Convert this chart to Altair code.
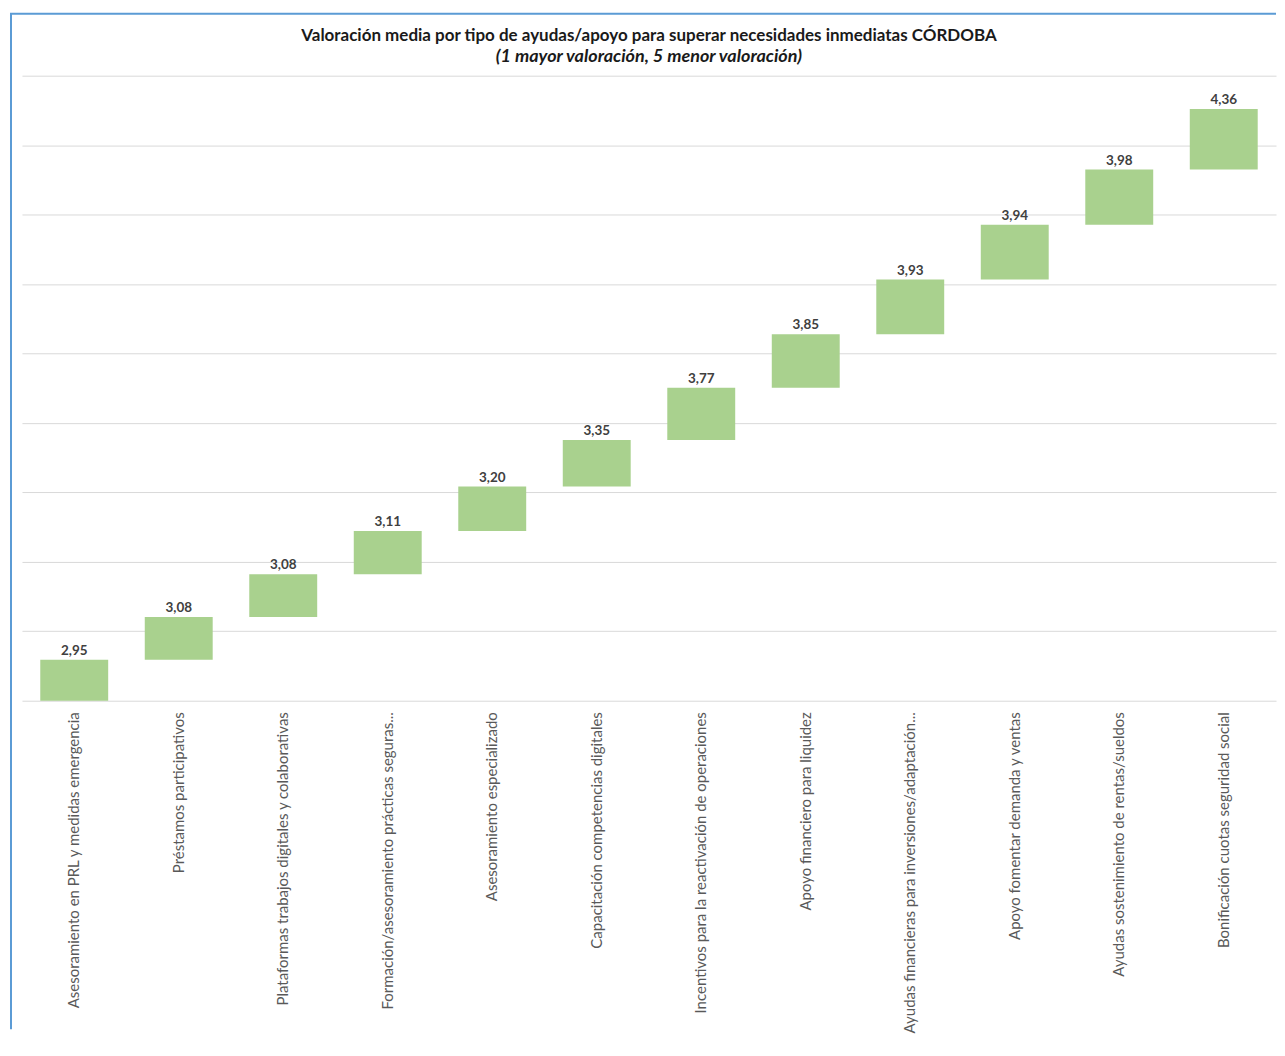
import altair as alt
import pandas as pd

categories = [
    "Asesoramiento en PRL y medidas emergencia",
    "Préstamos participativos",
    "Plataformas trabajos digitales y colaborativas",
    "Formación/asesoramiento prácticas seguras...",
    "Asesoramiento especializado",
    "Capacitación competencias digitales",
    "Incentivos para la reactivación de operaciones",
    "Apoyo financiero para liquidez",
    "Ayudas financieras para inversiones/adaptación...",
    "Apoyo fomentar demanda y ventas",
    "Ayudas sostenimiento de rentas/sueldos",
    "Bonificación cuotas seguridad social",
]
values = [2.95, 3.08, 3.08, 3.11, 3.20, 3.35, 3.77, 3.85, 3.93, 3.94, 3.98, 4.36]
grid_values = [0, 5, 10, 15, 20, 25, 30, 35, 40, 45]

title_text = "Valoración media por tipo de ayudas/apoyo para superar necesidades inmediatas CÓRDOBA"
subtitle_text = "(1 mayor valoración, 5 menor valoración)"

df = pd.DataFrame({"cat": categories, "val": values})
df["end"] = df["val"].cumsum()
df["start"] = df["end"] - df["val"]
df["label"] = [f"{v:.2f}".replace(".", ",") for v in values]

W, H = 1256, 626
FONT = "Lato"
BORDER = "#5b9bd5"

x = alt.X(
    "cat:N",
    sort=None,
    title=None,
    scale=alt.Scale(paddingInner=0.35, paddingOuter=0.175),
    axis=alt.Axis(
        labelAngle=-90,
        labelFont=FONT,
        labelFontSize=15,
        labelColor="#595959",
        labelPadding=11,
        labelLimit=500,
        ticks=False,
        domain=False,
        grid=False,
    ),
)

y_axis = alt.Axis(
    values=grid_values,
    labels=False,
    ticks=False,
    domain=False,
    grid=True,
    gridColor="#d9d9d9",
    gridWidth=1,
)
y_scale = alt.Scale(domain=[0, 45], nice=False, zero=True)

base = alt.Chart(df).encode(x=x)

bars = base.mark_bar(color="#a9d18e").encode(
    y=alt.Y("start:Q", title=None, scale=y_scale, axis=y_axis),
    y2="end:Q",
)

text = base.mark_text(
    font=FONT, fontSize=13.5, fontWeight="bold", color="#404040",
    baseline="alphabetic", dy=-5,
).encode(
    y=alt.Y("end:Q", title=None, scale=y_scale, axis=y_axis),
    text="label:N",
)

border_df = pd.DataFrame({"k": [0]})
left_border = alt.Chart(border_df).mark_rule(color=BORDER, strokeWidth=2).encode(
    x=alt.value(-11), y=alt.value(-62), y2=alt.value(955)
)
top_border = alt.Chart(border_df).mark_rule(color=BORDER, strokeWidth=2).encode(
    x=alt.value(-12), x2=alt.value(W), y=alt.value(-62)
)

chart = alt.layer(bars, text, left_border, top_border).properties(
    width=W,
    height=H,
    padding={"left": 1, "top": 4, "right": 0, "bottom": 0},
    background="white",
    title=alt.TitleParams(
        text=title_text,
        subtitle=subtitle_text,
        font=FONT,
        fontSize=17,
        fontWeight="bold",
        color="#1a1a1a",
        subtitleFont=FONT,
        subtitleFontSize=18,
        subtitleFontWeight="bold",
        subtitleFontStyle="italic",
        subtitleColor="#1a1a1a",
        anchor="middle",
        frame="group",
        offset=-54,
        subtitlePadding=3,
    ),
).configure_view(stroke=None)

chart.save("out.html", embed_options={"renderer": "svg", "actions": False})
